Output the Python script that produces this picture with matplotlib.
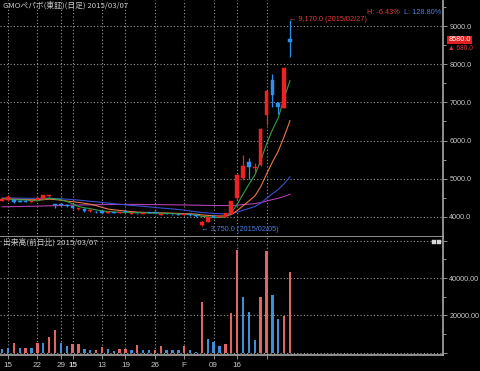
import matplotlib
matplotlib.use("Agg")
import matplotlib.pyplot as plt
from matplotlib.patches import Rectangle
from matplotlib.ticker import FixedLocator, FuncFormatter, NullFormatter
import matplotlib.transforms as mtransforms

plt.rcParams['font.family'] = ['Noto Sans CJK JP', 'DejaVu Sans']

# ---------------- data (trading-day index: -1 = 2014/12/12 ... 48 = 2015/02/27)
day_idx = list(range(-1, 49))
opens = [4420, 4440, 4440, 4410, 4420, 4390, 4440, 4460, 4550, 4320,
         4330, 4310, 4290, 4190, 4210, 4140, 4130, 4140, 4110, 4125,
         4110, 4160, 4070, 4095, 4080, 4110, 4130, 4050, 4080, 4070,
         4065, 4050, 4060, 4040, 3770, 3870, 4020, 4000, 4000, 4080,
         4480, 5010, 5440, 5280, 5360, 6670, 7590, 6990, 6860, 8660]
highs = [4500, 4560, 4460, 4430, 4440, 4440, 4500, 4580, 4580, 4330,
         4350, 4330, 4300, 4240, 4220, 4190, 4150, 4150, 4140, 4130,
         4130, 4170, 4110, 4110, 4100, 4120, 4140, 4090, 4090, 4080,
         4080, 4090, 4070, 4050, 3890, 4000, 4040, 4030, 4100, 4420,
         5120, 5620, 5530, 5400, 6320, 7300, 7750, 7000, 7900, 9170]
lows = [4400, 4420, 4370, 4380, 4380, 4380, 4420, 4450, 4520, 4220,
        4280, 4260, 4210, 4180, 4130, 4130, 4110, 4100, 4100, 4100,
        4100, 4110, 4060, 4080, 4070, 4090, 4090, 4040, 4060, 4050,
        4050, 4040, 4030, 4000, 3750, 3860, 3970, 3990, 3990, 4060,
        4440, 4960, 5000, 5140, 5340, 6400, 6890, 6700, 6850, 8200]
closes = [4470, 4520, 4390, 4400, 4390, 4420, 4490, 4560, 4560, 4310,
          4300, 4280, 4230, 4220, 4150, 4170, 4125, 4110, 4120, 4110,
          4120, 4120, 4090, 4090, 4090, 4100, 4100, 4080, 4070, 4060,
          4060, 4070, 4040, 4010, 3870, 3990, 3990, 4020, 4090, 4410,
          5095, 5330, 5310, 5300, 6300, 7290, 7200, 6890, 7900, 8580]

ma_short = [4480, 4470, 4450, 4440, 4440, 4424, 4418, 4452, 4484, 4468,
            4444, 4402, 4336, 4268, 4236, 4210, 4179, 4155, 4135, 4127,
            4117, 4116, 4112, 4106, 4102, 4098, 4094, 4092, 4088, 4082,
            4074, 4068, 4060, 4048, 4010, 3996, 3980, 3976, 3992, 4100,
            4321, 4589, 4847, 5089, 5467, 5906, 6280, 6596, 7116, 7572]
ma_mid = [4470, 4470, 4460, 4455, 4450, 4445, 4445, 4450, 4460, 4450,
          4434, 4410, 4394, 4376, 4352, 4327, 4291, 4246, 4202, 4182,
          4164, 4148, 4134, 4121, 4115, 4108, 4105, 4102, 4097, 4092,
          4086, 4081, 4076, 4068, 4046, 4035, 4024, 4018, 4020, 4055,
          4159, 4285, 4412, 4541, 4784, 5114, 5435, 5722, 6103, 6520]
ma_long = [4490, 4490, 4488, 4486, 4484, 4482, 4482, 4484, 4486, 4478,
           4470, 4460, 4448, 4436, 4420, 4405, 4390, 4374, 4358, 4342,
           4326, 4311, 4296, 4284, 4273, 4259, 4242, 4229, 4216, 4203,
           4189, 4172, 4151, 4129, 4111, 4099, 4087, 4079, 4074, 4084,
           4121, 4169, 4217, 4265, 4352, 4479, 4602, 4714, 4867, 5046]
ma_vlong = [4260, 4262, 4265, 4268, 4271, 4274, 4278, 4282, 4286, 4290,
            4294, 4298, 4302, 4306, 4310, 4313, 4316, 4318, 4320, 4321,
            4322, 4322, 4322, 4321, 4320, 4319, 4318, 4316, 4314, 4312,
            4310, 4308, 4306, 4303, 4299, 4297, 4295, 4293, 4292, 4292,
            4303, 4317, 4330, 4343, 4370, 4410, 4449, 4484, 4532, 4589]

volumes = [1800, 2350, 5000, 2350, 2350, 2400, 5300, 5300, 8500, 12000,
           5400, 3600, 4400, 4700, 2000, 1300, 1300, 3000, 2000, 900,
           2000, 2000, 1300, 4100, 1600, 1300, 1600, 3700, 1600, 1600,
           1300, 3700, 1300, 600, 27000, 7100, 5900, 3600, 4600, 21000,
           55000, 30000, 22000, 6800, 30000, 54300, 31000, 18000, 19500, 43000]
vol_up = [0, 0, 1, 0, 1, 0, 1, 0, 1, 1,
          0, 0, 1, 1, 0, 0, 1, 1, 0, 0,
          1, 1, 0, 1, 0, 0, 1, 1, 0, 0,
          0, 1, 0, 0, 1, 0, 0, 0, 1, 1,
          1, 0, 0, 0, 1, 1, 0, 0, 1, 1]

tick_days = [0, 5, 9, 11, 16, 20, 25, 30, 35, 39, 44]
tick_labels = ["15", "22", "29", "15", "13", "19", "26", "F", "09", "16", ""]
price_ticks = [4000, 5000, 6000, 7000, 8000, 9000]
vol_ticks = [0, 20000, 40000, 60000]

# ---------------- style
BG = 'black'
GRID = '#9a9a9a'
AXC = '#a8a8a8'
TXT = '#c8c8c8'
UP = '#ee2222'
DOWN = '#2a8fef'
VUP = '#e06666'
VDOWN = '#3d8fd6'
NUMFONT = 'Liberation Sans'

W, H = 480, 371
fig = plt.figure(figsize=(W / 100, H / 100), dpi=100, facecolor=BG)


def box(x0, y0, x1, y1):
    return [x0 / W, 1 - y1 / H, (x1 - x0) / W, (y1 - y0) / H]


ax = fig.add_axes(box(0, 0, 443, 237), facecolor=BG)
axv = fig.add_axes(box(0, 237, 443, 355.3), facecolor=BG)

XL = (-1.36, 74.04)
ax.set_xlim(*XL)
axv.set_xlim(*XL)
ax.set_ylim(3467, 9690)
axv.set_ylim(-1390, 61960)

dot = (0, (1, 2))
for a in (ax, axv):
    for s in ('left', 'top'):
        a.spines[s].set_visible(False)
    for s in ('right', 'bottom'):
        a.spines[s].set_color(AXC)
        a.spines[s].set_linewidth(1.2)
    a.xaxis.set_major_locator(FixedLocator(tick_days))
    a.grid(True, which='major', color=GRID, linestyle=dot, linewidth=0.8)
    a.set_axisbelow(True)
    a.yaxis.tick_right()
    a.tick_params(axis='y', which='both', colors=AXC, labelcolor=TXT,
                  labelsize=5.2, direction='out', pad=1.5)
    a.tick_params(axis='y', which='major', length=3, width=0.6)
    a.tick_params(axis='y', which='minor', length=2.5, width=0.6)

# main panel ticks
ax.yaxis.set_major_locator(FixedLocator(price_ticks))
ax.yaxis.set_minor_locator(FixedLocator([p + 500 for p in price_ticks]))
ax.yaxis.set_major_formatter(FuncFormatter(lambda v, p: f"{v:.1f}"))
ax.xaxis.set_major_formatter(NullFormatter())
ax.tick_params(axis='x', which='both', length=0, labelbottom=False)

# volume ticks
axv.yaxis.set_major_locator(FixedLocator(vol_ticks))
axv.yaxis.set_minor_locator(FixedLocator([10000, 30000, 50000]))
axv.yaxis.set_major_formatter(
    FuncFormatter(lambda v, p: f"{v:.2f}" if 0 < v < 60000 else ""))
axv.set_xticks(tick_days)
axv.set_xticklabels(tick_labels, fontfamily=NUMFONT)
axv.tick_params(axis='x', which='major', colors=AXC, labelcolor=TXT,
                labelsize=5.8, length=3, width=0.6, pad=1.5)
axv.get_xticklabels()[3].set_fontweight('bold')
for a in (ax, axv):
    for lbl in a.get_yticklabels():
        lbl.set_fontfamily(NUMFONT)

# ---------------- moving averages
ax.plot(day_idx, ma_vlong, color='#b040b0', lw=0.8, zorder=2)
ax.plot(day_idx, ma_long, color='#3a4fd0', lw=0.8, zorder=2)
ax.plot(day_idx, ma_mid, color='#e87848', lw=0.8, zorder=2)
ax.plot(day_idx, ma_short, color='#35a045', lw=0.8, zorder=2)

# ---------------- candles
cw = 0.62
for d, o, h, l, c in zip(day_idx, opens, highs, lows, closes):
    col = UP if c >= o else DOWN
    ax.vlines(d, l, h, color=col, lw=0.9, zorder=3)
    lo, hi = min(o, c), max(o, c)
    if hi - lo < 12:
        lo, hi = (lo + hi) / 2 - 6, (lo + hi) / 2 + 6
    ax.bar(d, hi - lo, bottom=lo, width=cw, color=col, edgecolor=col,
           linewidth=0.3, zorder=4)

# ---------------- volume
vcols = [VUP if u else VDOWN for u in vol_up]
axv.bar(day_idx, volumes, width=0.42, color=vcols, zorder=3)

# ---------------- annotations
hi_i = highs.index(max(highs))
lo_i = lows.index(min(lows))
ax.text(day_idx[hi_i] - 0.1, highs[hi_i], f"← {highs[hi_i]:,.1f} (2015/02/27)",
        color='#e03a3a', fontsize=5.3, va='center', ha='left', zorder=6,
        fontfamily=['Liberation Sans', 'DejaVu Sans'])
ax.text(day_idx[lo_i] - 0.1, lows[lo_i] - 75, f"← {lows[lo_i]:,.1f} (2015/02/05)",
        color='#4a7fe0', fontsize=5.3, va='center', ha='left', zorder=6,
        fontfamily=['Liberation Sans', 'DejaVu Sans'])

trans = mtransforms.blended_transform_factory(ax.transAxes, ax.transData)
last = closes[-1]
chg = closes[-1] - closes[-2]
ax.text(1.012, last + 60, f"{last:.1f}", transform=trans, color='white',
        fontsize=5.3, va='center', ha='left', clip_on=False, fontfamily=NUMFONT,
        bbox=dict(boxstyle='square,pad=0.12', fc='#e02020', ec='none'))
ax.text(1.012, last - 160, f"▲ {chg:.1f}", transform=trans, color='#e03a3a',
        fontsize=4.8, va='center', ha='left', clip_on=False,
        fontfamily=['Liberation Sans', 'DejaVu Sans'])

fig.text(3 / W, 1 - 5 / H, "GMOペパボ(東証)(日足) 2015/03/07", color=TXT,
         fontsize=5.6, va='center', ha='left')
fig.text(3 / W, 1 - 242 / H, "出来高(前日比) 2015/03/07", color=TXT,
         fontsize=5.6, va='center', ha='left')
fig.text(400 / W, 1 - 12 / H, "H: -6.43%", color='#e03a3a', fontsize=5.3,
         va='center', ha='right', fontfamily=NUMFONT)
fig.text(441 / W, 1 - 12 / H, "L: 128.80%", color='#4a7fe0', fontsize=5.3,
         va='center', ha='right', fontfamily=NUMFONT)

# small panel buttons
for bx in (432, 437):
    fig.patches.append(Rectangle((bx / W, 1 - 244 / H), 4 / W, 4 / H,
                                 transform=fig.transFigure, fc='#d8d8d8',
                                 ec='#d8d8d8', lw=0.3))

fig.savefig("out.png", dpi=100, facecolor=BG)
